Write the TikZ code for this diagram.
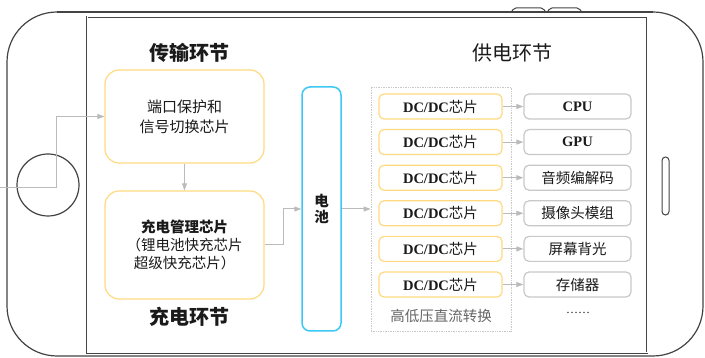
\documentclass[tikz,border=0pt]{standalone}
\usepackage{fontspec}
\setmainfont{Liberation Serif}
\newfontfamily\cjk{Noto Sans CJK SC}
\usetikzlibrary{arrows.meta}
\definecolor{ylw}{HTML}{FFDA80}
\definecolor{cyn}{HTML}{3CC8F5}
\definecolor{gbd}{HTML}{C8C8C8}
\definecolor{arrc}{HTML}{BBBBBB}
\definecolor{txt}{HTML}{1A1A1A}
\definecolor{phone}{HTML}{444444}
\tikzset{
  ybox/.style={draw=ylw, line width=1.2pt, rounded corners=14pt, minimum width=159pt, inner sep=0pt, align=center, text=txt},
  dcbox/.style={draw=ylw, line width=1.2pt, rounded corners=5pt, minimum width=123pt, minimum height=25pt, inner sep=0pt, text=txt},
  gbox/.style={draw=gbd, line width=1.2pt, rounded corners=5pt, minimum width=107pt, minimum height=25pt, inner sep=0pt, text=txt},
  arr/.style={draw=arrc, line width=1pt, -{Triangle[length=7pt,width=5pt]}},
  ttl/.style={text=txt, font=\fontsize{20}{22}\selectfont\cjk},
  body/.style={font=\fontsize{14.5}{18}\selectfont}
}
\begin{document}
\begin{tikzpicture}[x=1pt,y=-1pt]
\useasboundingbox[fill=white] (0,0) rectangle (705,358);
% phone outline
\draw[phone, line width=1.2pt, rounded corners=50pt] (7,12) rectangle (703,356);
\draw[phone, line width=1pt, rounded corners=2pt, fill=white] (511,12.6) -- (514,8) -- (543,8) -- (546,12.6);
\draw[phone, line width=1pt, rounded corners=2pt, fill=white] (547,12.6) -- (550,8) -- (579,8) -- (582,12.6);
\draw[phone, line width=1.2pt] (7,12) ++(50,0) -- (653,12);
\draw[phone, line width=0.7pt, double=white, double distance=1pt] (87,17) rectangle (647,353);
\draw[phone, line width=1.2pt] (48,185) circle (31);
\draw[phone, line width=1pt, rounded corners=3.5pt] (662,157) rectangle (669,215);

% titles
\node[ttl, font=\fontsize{20}{22}\selectfont\cjk\bfseries] (t1) at (189,53) {传输环节};
\node[ttl, font=\fontsize{20}{22}\selectfont\cjk\bfseries] (t2) at (189,317) {充电环节};
\node[ttl] (t3) at (512,53) {供电环节};

% left boxes
\node[ybox, minimum height=93pt, font=\fontsize{15}{20}\selectfont\cjk] (b1) at (184.5,116.5) {端口保护和\\信号切换芯片};
\node[ybox, minimum height=108pt, font=\fontsize{14.5}{18}\selectfont\cjk] (b2) at (184.5,245) {{\bfseries 充电管理芯片}\\（锂电池快充芯片\\超级快充芯片）};

% battery
\node[draw=cyn, line width=1.5pt, rounded corners=8pt, minimum width=39pt, minimum height=244pt, inner sep=0pt, align=center, text=txt, font=\fontsize{14.5}{16}\selectfont\cjk\bfseries] (bat) at (321.5,209) {电\\池};

% group
\node[draw=gbd, densely dotted, line width=0.7pt, minimum width=140pt, minimum height=244pt, inner sep=0pt] (grp) at (441,209) {};
\node[text=black!60, font=\fontsize{14.5}{16}\selectfont\cjk] (glab) at (441,316) {高低压直流转换};

% DC/DC and loads
\foreach \i/\lab in {0/{\bfseries CPU}, 1/{\bfseries GPU}, 2/{\cjk 音频编解码}, 3/{\cjk 摄像头模组}, 4/{\cjk 屏幕背光}, 5/{\cjk 存储器}} {
  \node[dcbox, body] (dc\i) at (440.5,{106.5+35.6*\i}) {{\bfseries DC/DC}{\cjk 芯片}};
  \node[gbox, body] (ld\i) at (577.5,{106.5+35.6*\i}) {\lab};
  \draw[arr] (dc\i) -- (ld\i);
}
\node[text=txt, font=\fontsize{12}{14}\selectfont] (dots) at (578,313) {……};

% connectors
\coordinate (src) at (0,188);
\draw[arr] (src) -- (56,188) |- (b1.west);
\draw[arr] (b1.south) -- (b2.north);
\draw[arr] (b2.east) -- (283,245) |- (bat.west);
\draw[arr] (bat.east) -- (grp.west);
\end{tikzpicture}
\end{document}
